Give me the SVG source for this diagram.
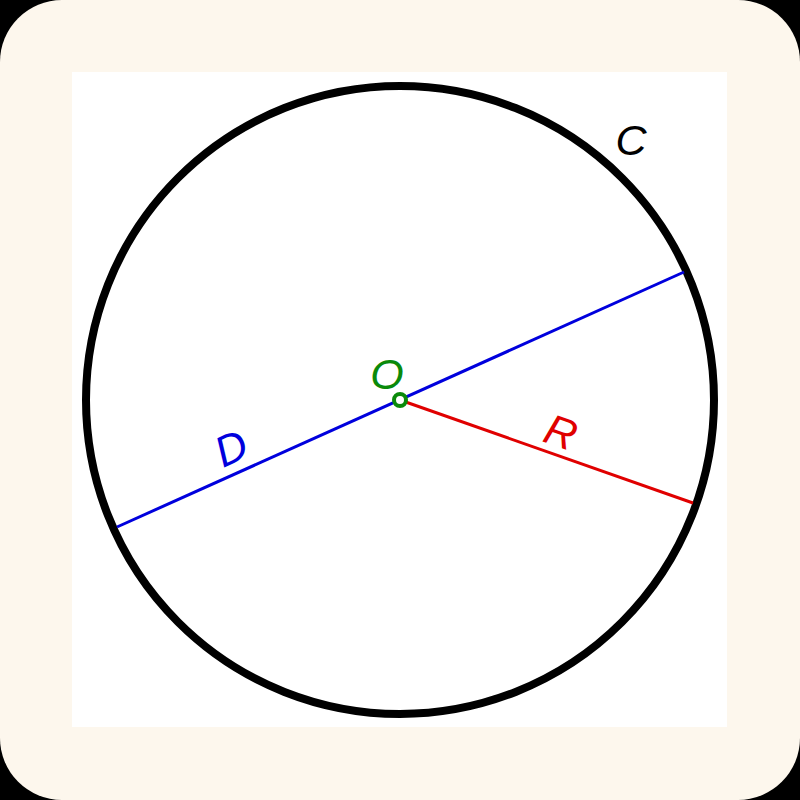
<svg xmlns="http://www.w3.org/2000/svg" width="800" height="800" viewBox="0 0 800 800">
<style>
.lbl{font-family:"Liberation Sans",Arial,sans-serif;font-style:italic;font-size:43px;text-anchor:middle}
</style>
<rect x="0" y="0" width="800" height="800" fill="#000"/>
<rect x="0" y="0" width="800" height="800" rx="62" ry="62" fill="#fdf7ed"/>
<rect x="72" y="72" width="655" height="655" fill="#ffffff"/>
<g id="circle-C">
<circle cx="400" cy="400" r="314" fill="none" stroke="#000" stroke-width="8"/>
<text class="lbl" x="631" y="155" fill="#000">C</text>
</g>
<g id="connectors">
<line id="diameter-D" x1="117" y1="527" x2="684" y2="272" stroke="#0000dd" stroke-width="3"/>
<line id="radius-R" x1="400" y1="400" x2="693" y2="503" stroke="#e00000" stroke-width="3"/>
</g>
<g id="label-D">
<text class="lbl" transform="translate(231,448) rotate(-24.2)" y="15" fill="#0000dd">D</text>
</g>
<g id="label-R">
<text class="lbl" transform="translate(561,432) rotate(19.4)" y="15" fill="#e00000">R</text>
</g>
<g id="point-O">
<circle cx="400" cy="400" r="6" fill="#fff" stroke="#0a8a0a" stroke-width="4"/>
<text class="lbl" x="387" y="389" fill="#0a8a0a">O</text>
</g>
</svg>
